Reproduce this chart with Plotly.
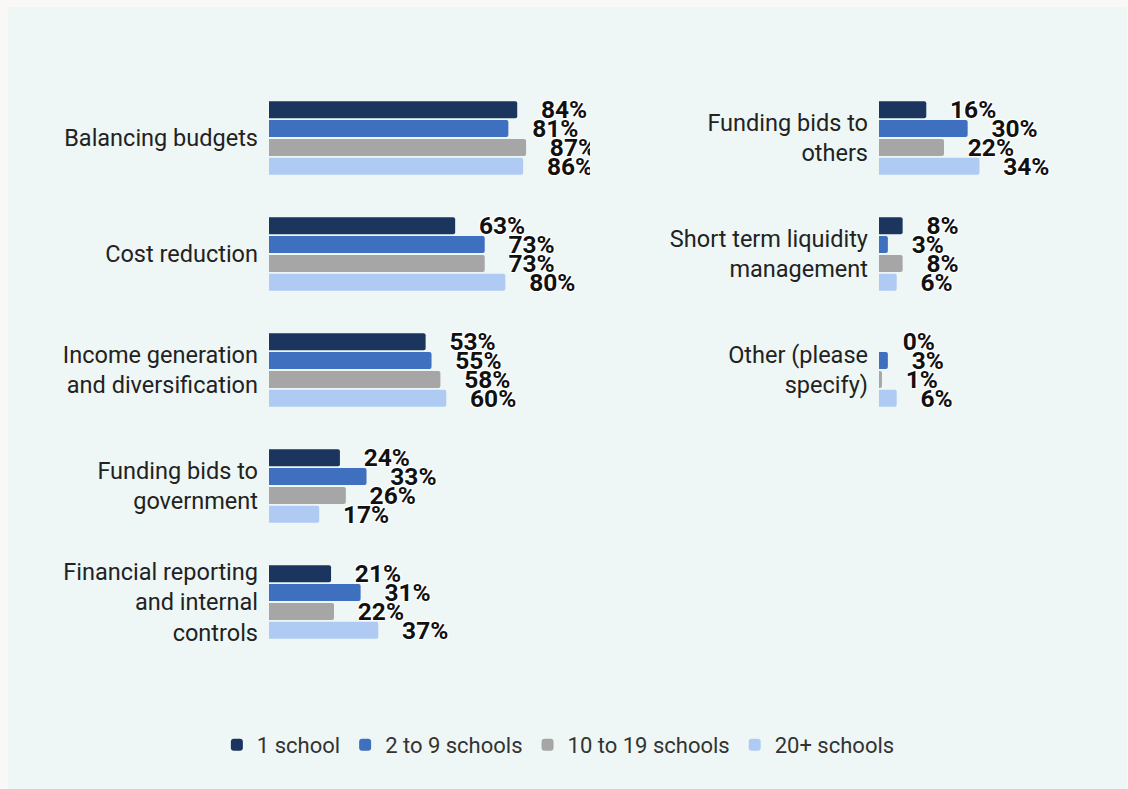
import plotly.graph_objects as go

# Survey responses by trust size (% of respondents)
series_names = ["1 school", "2 to 9 schools", "10 to 19 schools", "20+ schools"]
series_colors = ["#1b355e", "#3f6fbf", "#a6a6a6", "#afcbf3"]

left_categories = [
    "Balancing budgets",
    "Cost reduction",
    "Income generation<br>and diversification",
    "Funding bids to<br>government",
    "Financial reporting<br>and internal<br>controls",
]
left_values = [
    [84, 63, 53, 24, 21],   # 1 school
    [81, 73, 55, 33, 31],   # 2 to 9 schools
    [87, 73, 58, 26, 22],   # 10 to 19 schools
    [86, 80, 60, 17, 37],   # 20+ schools
]

right_categories = [
    "Funding bids to<br>others",
    "Short term liquidity<br>management",
    "Other (please<br>specify)",
]
right_values = [
    [16, 8, 0],
    [30, 3, 3],
    [22, 8, 1],
    [34, 6, 6],
]

W, H = 1128, 789
PX_PER_UNIT = 295.5  # pixels per 100 %

fig = go.Figure()

halo = ", ".join(
    f"{dx}px {dy}px 0 #fff"
    for dx, dy in [(1, 1), (-1, -1), (1, -1), (-1, 1), (0, 1), (0, -1), (1, 0), (-1, 0)]
)
label_font = dict(family="Roboto", size=24.5, color="#111111", weight="bold", shadow=halo)
label_pad = "\u00a0\u00a0\u00a0\u200a"

for j, name in enumerate(series_names):
    for cats, vals, xa, ya, show in [
        (left_categories, left_values[j], "x", "y", True),
        (right_categories, right_values[j], "x2", "y2", False),
    ]:
        fig.add_trace(go.Bar(
            y=cats,
            x=[v / 100 for v in vals],
            orientation="h",
            name=name,
            legendgroup=name,
            showlegend=show,
            marker=dict(color=series_colors[j], cornerradius=2, line=dict(width=0)),
            text=[label_pad + f"{v}%" for v in vals],
            textposition="outside",
            textfont=label_font,
            constraintext="none",
            cliponaxis=True,
            xaxis=xa,
            yaxis=ya,
            hovertemplate="%{y}: %{x:.0%}<extra>" + name + "</extra>",
        ))

# plot areas (pixel positions converted to paper fractions)
lx0, lx1 = 269, 590
rx0, rx1 = 879, 1120
ytop, ybot = 80, 660

tick_font = dict(family="Roboto", size=23.5, color="#222222")

fig.update_layout(
    width=W, height=H,
    margin=dict(l=0, r=0, t=0, b=0),
    paper_bgcolor="#faf7f7",
    plot_bgcolor="rgba(0,0,0,0)",
    barmode="group",
    bargap=0.35,
    bargroupgap=0.1,
    font=dict(family="Roboto", color="#222222"),
    showlegend=True,
    legend=dict(
        orientation="h", x=0.495, xanchor="center", y=1 - 745 / H, yanchor="middle",
        font=dict(family="Roboto", size=22, color="#333333"),
        bgcolor="rgba(0,0,0,0)", itemclick=False, itemdoubleclick=False,
        traceorder="normal", itemwidth=30,
    ),
    xaxis=dict(
        domain=[lx0 / W, lx1 / W], range=[0, (lx1 - lx0) / PX_PER_UNIT],
        visible=False, fixedrange=True,
    ),
    xaxis2=dict(
        domain=[rx0 / W, rx1 / W], range=[0, (rx1 - rx0) / PX_PER_UNIT],
        visible=False, fixedrange=True,
    ),
    yaxis=dict(
        domain=[1 - ybot / H, 1 - ytop / H], anchor="x",
        type="category", categoryorder="array", categoryarray=left_categories,
        range=[4.5, -0.5], showgrid=False, zeroline=False, showline=False,
        ticks="", ticklabelstandoff=10, tickfont=tick_font, fixedrange=True,
    ),
    yaxis2=dict(
        domain=[1 - ybot / H, 1 - ytop / H], anchor="x2",
        type="category", categoryorder="array", categoryarray=right_categories,
        range=[4.5, -0.5], showgrid=False, zeroline=False, showline=False,
        ticks="", ticklabelstandoff=10, tickfont=tick_font, fixedrange=True,
    ),
    shapes=[dict(
        type="rect", xref="paper", yref="paper",
        x0=8 / W, x1=1127 / W, y0=0, y1=1 - 7 / H,
        fillcolor="#eef7f5", line=dict(width=0), layer="below",
    )],
)

fig.write_html("out.html")
